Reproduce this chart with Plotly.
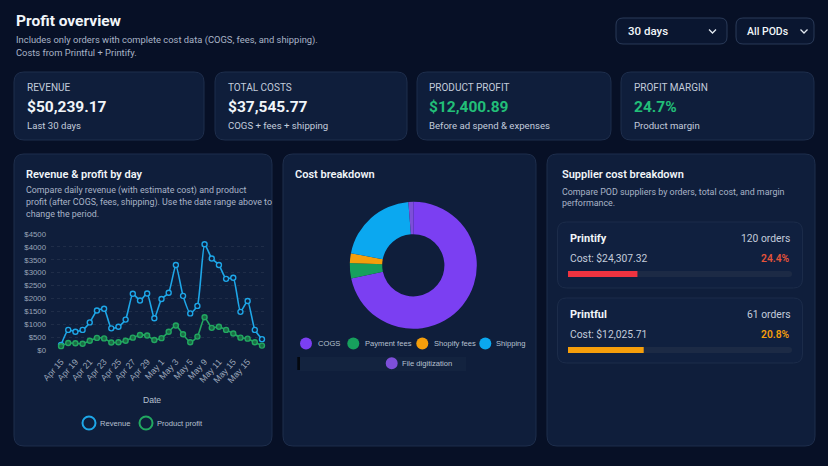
import plotly.graph_objects as go

W, H = 828, 466

# ---------------- data ----------------
dates = ["Apr 15", "Apr 18", "Apr 19", "Apr 20", "Apr 21", "Apr 22", "Apr 23", "Apr 24",
         "Apr 25", "Apr 26", "Apr 27", "Apr 28", "Apr 29", "Apr 30", "May 1", "May 2",
         "May 3", "May 4", "May 5", "May 8", "May 9", "May 10", "May 11", "May 12",
         "May 13", "May 14", "May 15", "May 16", "May 17"]
revenue = [200, 780, 710, 780, 1070, 1530, 1600, 840, 900, 1180, 2180, 1920, 2190, 1230,
           1980, 2220, 3300, 2100, 1420, 1710, 4100, 3550, 3300, 2760, 2800, 1480, 1900, 780, 420]
profit = [150, 270, 260, 240, 360, 470, 450, 290, 300, 360, 480, 580, 560, 390,
          460, 710, 950, 610, 300, 520, 1270, 860, 900, 780, 640, 480, 440, 300, 170]
tick_idx = [0, 2, 4, 6, 8, 10, 12, 14, 16, 18, 20, 22, 24, 26]
tick_labels = ["Apr 15", "Apr 19", "Apr 21", "Apr 23", "Apr 25", "Apr 27", "Apr 29",
               "May 1", "May 3", "May 5", "May 9", "May 11", "May 15", "May 15"]

cost_labels = ["COGS", "Payment fees", "Shopify fees", "Shipping", "File digitization"]
cost_values = [26900, 1470, 940, 7770, 465]
cost_colors = ["#7b3ff2", "#17a05d", "#f59e0b", "#0ba8f0", "#7d4fd9"]

kpi_labels = ["REVENUE", "TOTAL COSTS", "PRODUCT PROFIT", "PROFIT MARGIN"]
kpi_values = ["$50,239.17", "$37,545.77", "$12,400.89", "24.7%"]
kpi_subs = ["Last 30 days", "COGS + fees + shipping", "Before ad spend & expenses", "Product margin"]

suppliers = ["Printify", "Printful"]
supplier_orders = [120, 61]
supplier_costs = ["$24,307.32", "$12,025.71"]
supplier_margins = ["24.4%", "20.8%"]
supplier_bar_share = [0.31, 0.338]
supplier_colors = ["#ef3340", "#f59e0b"]
margin_colors = ["#e5533a", "#f59e0b"]

# ---------------- helpers ----------------
def X(px):
    return px / W

def Y(py):
    return 1 - py / H

FONT = "Roboto"
CHART_FONT = "Liberation Sans"
BG = "#071026"
CARD = "#0f1e3b"
CARD_BORDER = "#1e2e4c"
TXT = "#f1f5f9"
MUTED = "#a9b4c7"

shapes = []
annotations = []

def rrect(x0, y0, x1, y1, r, fill, line, lw=1):
    pts = [("M", [(x0 + r, y0)]), ("L", [(x1 - r, y0)]), ("Q", [(x1, y0), (x1, y0 + r)]),
           ("L", [(x1, y1 - r)]), ("Q", [(x1, y1), (x1 - r, y1)]), ("L", [(x0 + r, y1)]),
           ("Q", [(x0, y1), (x0, y1 - r)]), ("L", [(x0, y0 + r)]), ("Q", [(x0, y0), (x0 + r, y0)])]
    s = ""
    for cmd, ps in pts:
        s += cmd + " " + " ".join(f"{X(a):.5f},{Y(b):.5f}" for a, b in ps) + " "
    s += "Z"
    shapes.append(dict(type="path", path=s, xref="paper", yref="paper", fillcolor=fill,
                       line=dict(color=line, width=lw), layer="below"))

def txt(x, y, s, size, color, weight=400, anchor="left", family=FONT):
    annotations.append(dict(x=X(x), y=Y(y), xref="paper", yref="paper", text=s,
                            showarrow=False, xanchor=anchor, yanchor="middle",
                            font=dict(family=family, size=size, color=color, weight=weight)))

def circle(cx, cy, r, fill, line=None, lw=0):
    shapes.append(dict(type="circle", xref="paper", yref="paper",
                       x0=X(cx - r), x1=X(cx + r), y0=Y(cy + r), y1=Y(cy - r),
                       fillcolor=fill, line=dict(color=line or fill, width=lw)))

def chevron(cx, cy):
    p = f"M {X(cx-3.5):.5f},{Y(cy-1.5):.5f} L {X(cx):.5f},{Y(cy+2):.5f} L {X(cx+3.5):.5f},{Y(cy-1.5):.5f}"
    shapes.append(dict(type="path", path=p, xref="paper", yref="paper",
                       line=dict(color="#e2e8f0", width=1.3)))

# ---------------- header ----------------
txt(14, 21, "Profit overview", 15.5, TXT, 700)
txt(14, 40, "Includes only orders with complete cost data (COGS, fees, and shipping).", 9.4, MUTED)
txt(14, 52, "Costs from Printful + Printify.", 9.4, MUTED)

rrect(616, 18, 727, 44, 7, "#0a1630", "#2a3a58")
txt(626, 31.5, "30 days", 11.5, TXT, 500)
chevron(712.5, 31)
rrect(736, 18, 814, 44, 7, "#0a1630", "#2a3a58")
txt(745, 31.5, "All PODs", 10.5, TXT, 500)
chevron(804, 31)

# ---------------- KPI cards ----------------
kpi_x = [(14, 204), (215, 407), (417, 611), (621, 814)]
for i, (a, b) in enumerate(kpi_x):
    rrect(a, 72, b, 140, 10, CARD, CARD_BORDER)
    txt(a + 10.5, 87.5, kpi_labels[i], 10, "#c3ccdb")
    vcol = TXT if i < 2 else "#22bf78"
    txt(a + 10.5, 107, kpi_values[i], 15.5, vcol, 700)
    txt(a + 10.5, 125.5, kpi_subs[i], 9.6, "#c3ccdb")

# ---------------- big cards ----------------
rrect(14, 154, 272, 446, 10, CARD, CARD_BORDER)
rrect(283, 154, 536, 446, 10, CARD, CARD_BORDER)
rrect(547, 154, 815, 446, 10, CARD, CARD_BORDER)

txt(24, 174, "Revenue &amp; profit by day", 11, TXT, 600)
txt(24, 190.5, "Compare daily revenue (with estimate cost) and product", 8.9, MUTED)
txt(24, 202, "profit (after COGS, fees, shipping). Use the date range above to", 8.9, MUTED)
txt(24, 213.5, "change the period.", 8.9, MUTED)

txt(293, 174, "Cost breakdown", 11, TXT, 600)

txt(560, 174, "Supplier cost breakdown", 11, TXT, 600)
txt(560, 192, "Compare POD suppliers by orders, total cost, and margin", 8.9, MUTED)
txt(560, 203, "performance.", 8.9, MUTED)

# line chart legend + axis title
LEG = "#b6c0d0"
txt(152, 400, "Date", 8.6, LEG, anchor="center", family=CHART_FONT)
circle(89, 423, 6.5, "rgba(0,0,0,0)", "#1ea7e8", 2)
txt(98, 423.5, "Revenue", 7.6, LEG, family=CHART_FONT)
circle(146, 423, 6.5, "rgba(0,0,0,0)", "#22a861", 2)
txt(155, 423.5, "Product profit", 7.6, LEG, family=CHART_FONT)

# donut legend
leg_pos = [(306, 343.5, 315.5), (353.3, 343.5, 362.7), (422.3, 343.5, 431.7),
           (485.3, 343.5, 494.3), (391.7, 363.3, 399.5)]
shapes.append(dict(type="rect", xref="paper", yref="paper", x0=X(300), x1=X(466),
                   y0=Y(371), y1=Y(357), fillcolor="#13233f", line=dict(width=0), layer="below"))
shapes.append(dict(type="rect", xref="paper", yref="paper", x0=X(297.3), x1=X(300),
                   y0=Y(370), y1=Y(357), fillcolor="#04080f", line=dict(width=0)))
for i, (cx, cy, tx) in enumerate(leg_pos):
    circle(cx, cy, 6, cost_colors[i])
    txt(tx, cy + 0.3, cost_labels[i], 7.6, LEG, family=CHART_FONT)

# supplier sub-cards
sub_y = [(222, 288), (298, 363)]
for i, (a, b) in enumerate(sub_y):
    rrect(557.5, a, 802.5, b, 9, "#10203f", "#1c2c4a")
    txt(568, a + 16, suppliers[i], 11, TXT, 700)
    txt(792, a + 16, f"{supplier_orders[i]} orders", 10.3, "#c3ccdb", anchor="right")
    txt(568, a + 36, f"Cost: {supplier_costs[i]}", 10.3, "#c3ccdb")
    txt(792, a + 36, supplier_margins[i], 10.3, margin_colors[i], 600, anchor="right")

# ---------------- traces ----------------
fig = go.Figure()

x_idx = list(range(len(dates)))
fig.add_trace(go.Scatter(x=x_idx, y=revenue, mode="lines+markers", name="Revenue",
                         text=dates, line=dict(color="#1ea7e8", width=1.6, shape="spline", smoothing=0.5),
                         marker=dict(size=5, color="#0f1e3b", line=dict(color="#1ea7e8", width=1.4)),
                         xaxis="x", yaxis="y"))
fig.add_trace(go.Scatter(x=x_idx, y=profit, mode="lines+markers", name="Product profit",
                         text=dates, line=dict(color="#22a861", width=1.6, shape="spline", smoothing=0.5),
                         marker=dict(size=5, color="#1a6b45", line=dict(color="#22a861", width=1.4)),
                         xaxis="x", yaxis="y"))

# donut
cx, cy, r = 413.3, 265.3, 63.5
fig.add_trace(go.Pie(labels=cost_labels, values=cost_values, hole=0.49, sort=False,
                     direction="clockwise", rotation=0, textinfo="none",
                     marker=dict(colors=cost_colors, line=dict(width=0)),
                     domain=dict(x=[X(cx - r), X(cx + r)], y=[Y(cy + r), Y(cy - r)]),
                     showlegend=False))

# supplier progress bars
bar_y = [(271, 277), (347, 353)]
for i, (a, b) in enumerate(bar_y):
    xa, ya = f"x{i+2}", f"y{i+2}"
    fig.add_trace(go.Bar(x=[1], y=[0], orientation="h",
                         marker=dict(color="#1c2a45", cornerradius=3, line=dict(width=0)),
                         width=1, xaxis=xa, yaxis=ya, showlegend=False, hoverinfo="skip"))
    fig.add_trace(go.Bar(x=[supplier_bar_share[i]], y=[0], orientation="h",
                         marker=dict(color=supplier_colors[i], cornerradius=3, line=dict(width=0)),
                         width=1, xaxis=xa, yaxis=ya, showlegend=False, name=suppliers[i]))

layout = dict(
    template="none",
    width=W, height=H, autosize=False,
    margin=dict(l=0, r=0, t=0, b=0, pad=0, autoexpand=False),
    paper_bgcolor=BG, plot_bgcolor="rgba(0,0,0,0)",
    showlegend=False, barmode="overlay",
    font=dict(family=FONT, color="#9aa5b8"),
    shapes=shapes, annotations=annotations,
    xaxis=dict(domain=[X(51), X(266)], range=[-1.4, 28.56], tickmode="array",
               tickvals=tick_idx, ticktext=tick_labels, tickangle=-48,
               tickfont=dict(family=CHART_FONT, size=8.8, color="#9aa5b8"), showgrid=False,
               zeroline=False, showline=False, ticks="", automargin=False,
               ticklabelstandoff=4),
    yaxis=dict(domain=[Y(350), Y(234)], range=[0, 4500], dtick=500, tickprefix="$",
               tickformat="d", tickfont=dict(family=CHART_FONT, size=7.8, color="#9aa5b8"),
               showgrid=True, gridcolor="rgba(255,255,255,0.07)", griddash="dot",
               zeroline=False, showline=False, ticks="", automargin=False,
               ticklabelstandoff=4),
)
for i, (a, b) in enumerate(bar_y):
    layout[f"xaxis{i+2}"] = dict(domain=[X(568), X(792)], range=[0, 1], visible=False,
                                 fixedrange=True, automargin=False)
    layout[f"yaxis{i+2}"] = dict(domain=[Y(b), Y(a)], range=[-0.5, 0.5], visible=False,
                                 fixedrange=True, automargin=False)

fig.update_layout(**layout)
fig.write_html("out.html")
